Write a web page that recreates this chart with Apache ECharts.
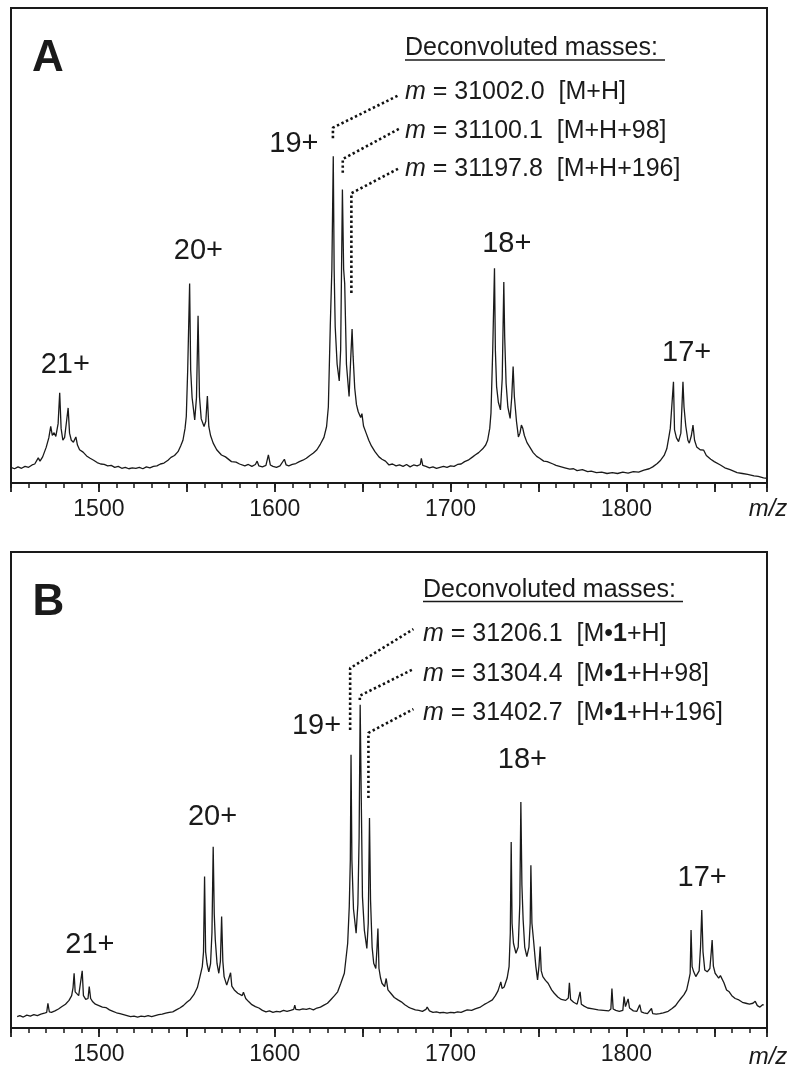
<!DOCTYPE html>
<html>
<head>
<meta charset="utf-8">
<script src="https://cdn.jsdelivr.net/npm/echarts@6/dist/echarts.min.js"></script>
<style>
html,body{margin:0;padding:0;background:#fff;}
#chart{width:800px;height:1080px;}
</style>
</head>
<body>
<div id="chart"></div>
<script>
// ---------------- data ----------------
const mzRange = [1450, 1880];
const tickLabels = [1500, 1600, 1700, 1800];

// Panel A spectrum: [m/z, relative intensity]
const spectrumA = [
[1450,3.3],[1452,3.0],[1454,3.4],[1456,3.1],[1458,3.5],[1460,3.3],[1462,3.8],[1463.5,4.0],[1465.5,5.3],[1466.5,4.6],
[1468,5.5],[1470,7.5],[1471.5,9.5],[1472.6,11.9],[1473.5,10.0],[1474.5,10.6],[1475.5,9.8],[1476.8,12.5],[1477.7,19.0],[1478.5,11.5],
[1479.5,9.0],[1480.5,9.6],[1481.6,13.0],[1482.5,15.8],[1483.3,10.5],[1484.3,9.0],[1485.5,8.6],[1486.9,9.7],[1487.8,8.0],[1489,7.0],
[1491,6.5],[1493,5.7],[1495,5.2],[1497,4.8],[1499,4.3],[1501,4.0],[1503,3.9],[1505,3.6],[1507,3.7],[1509,3.3],
[1511,3.5],[1513,3.1],[1515,3.3],[1517,3.0],[1519,3.2],[1521,3.1],[1523,3.3],[1525,3.0],[1527,3.4],[1529,3.2],
[1531,3.5],[1533,3.6],[1535,4.0],[1537,4.2],[1539.3,4.8],[1541,5.4],[1543,5.8],[1545,6.6],[1546.5,7.8],[1547.8,9.0],
[1549,11.5],[1549.7,14.0],[1550.5,23.8],[1551.6,42.0],[1552.2,23.8],[1553.0,18.0],[1554.5,13.3],[1555.5,18.0],[1556.4,35.2],[1557.2,18.2],
[1558.2,13.5],[1559.8,11.9],[1560.8,13.0],[1561.7,18.3],[1562.5,11.9],[1563.5,10.0],[1565,8.4],[1567,7.0],[1569.7,5.9],[1572,5.5],
[1575.4,4.5],[1578,4.4],[1580,4.0],[1583,3.6],[1585,3.9],[1587,3.5],[1589,3.9],[1590,4.6],[1591,3.6],[1593,3.4],
[1595,3.7],[1596.4,5.9],[1597.5,3.8],[1599,3.5],[1601,3.3],[1603,3.6],[1605.5,5.0],[1606.5,3.8],[1608,3.6],[1610,3.9],
[1612,4.1],[1614,4.5],[1616,4.8],[1618,5.2],[1620,5.8],[1622,6.3],[1624,7.0],[1626,8.2],[1628,9.6],[1629.5,11.9],
[1630.5,16],[1631.6,33],[1632.5,45],[1633.3,68.8],[1633.8,45],[1634.4,32.9],[1635.5,25],[1636.7,21.5],[1637.5,28],[1638.5,61.8],
[1639.2,45],[1639.8,42],[1640.8,25],[1642.3,18.2],[1643.2,26],[1644,32.4],[1644.6,26.6],[1645.5,20],[1646.5,16.5],[1647.5,15.0],
[1648.2,15.4],[1648.9,13.8],[1649.6,14.6],[1650.5,12.0],[1652,10.5],[1653.5,9.0],[1655,7.8],[1657,6.6],[1659.3,5.5],[1661,5.0],
[1663,4.6],[1665,3.8],[1667,4.0],[1669,3.6],[1671,3.8],[1673,3.5],[1675,3.9],[1677,3.4],[1679,3.8],[1681,3.6],
[1682.8,3.9],[1683.4,5.2],[1684.2,3.7],[1686,3.5],[1688,3.2],[1690,3.4],[1692,3.1],[1694,3.3],[1696,3.5],[1698,3.3],
[1700,3.6],[1702,3.5],[1704,3.9],[1706,4.0],[1708,4.5],[1710,4.8],[1712.6,5.5],[1714,5.9],[1716,6.4],[1718.3,7.2],
[1720,8.0],[1721.1,9.0],[1722.3,11.5],[1723,14.7],[1724,28],[1725,45.2],[1725.5,28],[1726.2,20.3],[1727.2,17],[1728.4,15.4],
[1729.4,22],[1730.3,42.3],[1730.8,30.8],[1731.6,21],[1732.6,16],[1733.9,13.6],[1734.8,18],[1735.6,24.5],[1736.3,18.2],[1737.5,13],
[1738.6,9.7],[1739.5,10.5],[1740.3,12.2],[1741.1,11.5],[1742,10],[1743.5,8.5],[1745,7.6],[1747,6.4],[1749,5.6],[1750.7,5.2],
[1753,4.6],[1755,4.5],[1758.3,4.0],[1760,3.7],[1763,3.4],[1765,3.2],[1767.8,2.9],[1770,3.0],[1772,2.6],[1775,2.8],
[1778,2.4],[1780,2.5],[1783,2.2],[1786,2.3],[1789,2.0],[1792,2.2],[1795,2.0],[1798,2.3],[1801,2.1],[1804,2.4],
[1807,2.3],[1810,2.7],[1813,3.0],[1815,3.4],[1817.6,4.1],[1819.5,4.8],[1821.5,5.8],[1823,7.2],[1824.2,9.7],[1825,11.5],
[1826.8,21.3],[1827.4,11.2],[1828.5,9.5],[1829.7,8.7],[1831,10.5],[1832.2,21.3],[1832.8,16],[1833.8,12],[1835,9.0],[1835.8,8.4],
[1837,10],[1837.9,12.2],[1838.8,9.0],[1840,7.6],[1842,7.0],[1844,6.9],[1845.5,5.8],[1848,5.0],[1850,4.5],[1853.5,3.8],
[1856,3.2],[1859,2.8],[1863,2.2],[1866,2.0],[1869,1.8],[1872.6,1.5],[1875,1.4],[1878,1.1],[1880,1.0]
];

// Panel B spectrum: [m/z, relative intensity]
const spectrumB = [
[1453.5,2.4],[1455,2.6],[1457,2.3],[1459,2.7],[1461,2.5],[1463,2.8],[1465,2.6],[1467,2.9],[1469,3.1],[1470.3,3.3],
[1471,5.2],[1471.8,3.4],[1473,3.3],[1475,3.6],[1477,4.0],[1479,4.5],[1481,5.0],[1483,5.8],[1484.5,6.8],[1485.3,8.5],
[1485.9,11.5],[1486.5,7.6],[1487.5,7.3],[1488.5,6.8],[1489.5,7.2],[1490.5,12.0],[1491.2,6.8],[1492.5,6.0],[1493.8,6.2],[1494.5,8.7],
[1495.3,6.2],[1496.5,5.5],[1498,5.0],[1500,4.7],[1502,4.4],[1504,4.3],[1506,3.8],[1508,3.5],[1510,3.2],[1512,3.0],
[1514,2.8],[1516,2.6],[1518,2.4],[1520,2.5],[1522,2.3],[1524,2.5],[1526,2.4],[1528,2.6],[1530,2.4],[1532,2.6],
[1534,2.8],[1536,2.9],[1538,3.1],[1540,3.3],[1542,3.4],[1544,3.8],[1546,4.2],[1548,4.7],[1550,5.4],[1552,6.0],
[1554,7.0],[1556,8.5],[1557.5,10.8],[1558.8,12.9],[1559.5,16],[1560.1,31.8],[1560.7,16],[1561.5,13.5],[1562.5,11.8],[1563.5,13.5],
[1564.3,20],[1565,38.1],[1565.6,24],[1566.2,18.5],[1567.2,13.5],[1568.2,11.5],[1569.1,14],[1569.8,23.4],[1570.5,14],[1571.2,10.8],
[1572.7,9.0],[1573.5,8.7],[1574.9,11.6],[1575.6,8.8],[1577,8.0],[1579,7.3],[1581.5,6.8],[1582.2,7.5],[1583.5,6.2],[1585,5.6],
[1587,4.9],[1589,4.5],[1591,4.2],[1593,3.7],[1595,3.4],[1597,3.6],[1599,3.3],[1601,3.5],[1603,3.4],[1605,3.7],
[1607,3.5],[1609,3.7],[1610.8,3.9],[1611.4,4.8],[1612,3.9],[1614,3.8],[1616,4.0],[1618,3.9],[1620,4.1],[1622,3.8],
[1624,4.2],[1626,4.4],[1628,4.8],[1630,5.2],[1632,6.0],[1634,6.8],[1635.8,7.6],[1637.5,9.3],[1639.6,11.5],[1641.5,17.8],
[1642.4,25.5],[1643.0,35.3],[1643.4,57.4],[1643.9,35.3],[1644.8,25],[1646.3,19.9],[1647.3,26],[1648,40],[1648.6,67.9],[1649.1,52],
[1649.9,27.6],[1651.0,20.5],[1652.4,16.7],[1653.2,22],[1653.9,44.1],[1654.5,26.9],[1655.4,17],[1656.3,13.6],[1657.5,12.5],[1658.2,17],
[1658.7,20.9],[1659.3,12.5],[1660.2,10.5],[1661,9.4],[1662.5,8.7],[1663.4,10.4],[1664.4,8.0],[1666,7.3],[1668,6.4],[1670.1,5.9],
[1672,5.5],[1674,4.9],[1676,4.4],[1677.7,4.1],[1680,3.8],[1682,3.7],[1684,3.5],[1686,3.9],[1686.7,4.4],[1688,3.6],
[1690,3.3],[1692,3.4],[1694,3.2],[1696,3.3],[1698,3.1],[1700,3.3],[1702,3.2],[1704,3.4],[1706,3.3],[1708,3.6],
[1709.5,3.8],[1712,3.7],[1714,4.0],[1717,4.4],[1719,4.9],[1721,5.3],[1723.8,5.9],[1725.5,6.8],[1727,7.8],[1728.6,9.7],
[1729.3,8.3],[1730.5,8.6],[1732.2,10.5],[1733.3,12.9],[1734,20],[1734.5,39.1],[1735,22],[1735.8,17.8],[1737.2,15.7],[1738.5,17],
[1739.4,26],[1740,47.5],[1740.6,30],[1741.3,22.7],[1742.2,17],[1743.4,15.0],[1744.6,17],[1745.3,22],[1745.7,34.2],[1746.3,22],
[1747.2,18.5],[1748.5,13],[1749.5,10.1],[1750.3,13],[1751,17.1],[1751.6,12],[1752.5,10.8],[1754,10],[1755.5,9.4],[1756.2,9.7],
[1757.5,8.0],[1759,7.3],[1761,6.5],[1763,6.0],[1765.5,5.8],[1767,6.3],[1767.6,9.5],[1768.3,6.0],[1770,5.4],[1772,5.0],
[1773.1,5.3],[1773.7,7.6],[1774.4,5.0],[1776,4.6],[1778,4.2],[1781,4.0],[1784,3.8],[1787,3.7],[1790,3.6],[1791.2,4.0],
[1791.8,8.3],[1792.5,4.0],[1794,3.7],[1796,3.5],[1798,3.7],[1798.7,6.6],[1799.5,4.5],[1800.3,4.2],[1801,6.1],[1801.8,4.2],
[1804,3.6],[1806,3.5],[1807.6,4.9],[1808.5,3.4],[1810,3.2],[1812,3.0],[1814.3,4.1],[1815,3.0],[1817,2.9],[1819,3.0],
[1821,3.2],[1823.8,3.5],[1826,4.1],[1828,4.7],[1829.5,5.5],[1831,6.2],[1832.8,7.0],[1834.3,8.0],[1835.5,10],[1836.3,11.5],
[1836.8,20.6],[1837.4,12.9],[1838.3,11.8],[1839.5,10.8],[1841.4,12],[1842.2,17],[1842.9,24.8],[1843.6,16],[1844.6,12.2],[1846,11.8],
[1847.5,12.5],[1848.3,16],[1848.8,18.5],[1849.5,13],[1850.5,11.5],[1851.5,11.0],[1852.5,10.5],[1853.5,11.0],[1854.3,10.8],[1855.5,9.5],
[1857,8],[1858.5,7.6],[1860,6.8],[1861.9,6.2],[1864,5.9],[1866,5.4],[1868,5.2],[1870,5.0],[1872,5.2],[1873.3,5.6],
[1874.5,4.7],[1876,4.4],[1877.5,4.9],[1878.1,4.8]
];

// charge-state labels and their anchor (m/z, intensity)
const charges = ['21+', '20+', '19+', '18+', '17+'];
const chargeAnchorA = [[1480.9, 24.8], [1556.6, 48.8], [1610.9, 71.4], [1732.0, 50.3], [1834.3, 27.4]];
const chargeAnchorB = [[1494.9, 17.4], [1564.6, 44.3], [1623.8, 63.4], [1740.9, 56.3], [1843.1, 31.5]];

// deconvoluted masses
const massesA = ['31002.0', '31100.1', '31197.8'];
const speciesA = ['M+H', 'M+H+98', 'M+H+196'];
const massesB = ['31206.1', '31304.4', '31402.7'];
const speciesB = ['+H', '+H+98', '+H+196'];

// dotted connectors from peaks to mass lines (data coords)
const connectorsA = [
  [[1633.1, 72.6], [1633.1, 74.8], [1670.9, 81.7]],
  [[1638.7, 65.3], [1638.7, 68.2], [1670.9, 74.6]],
  [[1643.6, 40.0], [1643.6, 61.0], [1670.9, 66.3]]
];
const connectorsB = [
  [[1642.9, 62.6], [1642.9, 75.6], [1678.9, 83.8]],
  [[1648.4, 68.9], [1648.4, 69.8], [1678.9, 75.4]],
  [[1653.3, 48.3], [1653.3, 62.0], [1678.9, 67.0]]
];

// ---------------- chart ----------------
const FONT = '"Liberation Sans", Arial, Helvetica, sans-serif';
const INK = '#1a1a1a';
const chart = echarts.init(document.getElementById('chart'), null, {renderer: 'canvas'});

function xAxes(g) {
  return [
    { gridIndex: g, type: 'value', position: 'bottom', offset: 0, min: mzRange[0], max: mzRange[1], interval: 10,
      axisLine: {show: true, onZero: false, lineStyle: {color: INK, width: 2}},
      axisTick: {show: true, length: 5, lineStyle: {color: INK, width: 1.5}},
      axisLabel: {show: false}, splitLine: {show: false} },
    { gridIndex: g, type: 'value', position: 'bottom', offset: 0, min: mzRange[0], max: mzRange[1], interval: 50,
      axisLine: {show: false, onZero: false},
      axisTick: {show: true, length: 9, lineStyle: {color: INK, width: 1.8}},
      axisLabel: {show: true, margin: 15, fontSize: 23, fontFamily: FONT, color: INK,
        formatter: v => tickLabels.indexOf(v) >= 0 ? String(v) : ''},
      splitLine: {show: false} }
  ];
}

function spectrumSeries(data, xi, yi) {
  return { type: 'line', data: data, xAxisIndex: xi, yAxisIndex: yi, symbol: 'none', showSymbol: false,
    lineStyle: {color: INK, width: 1.3}, animation: false, z: 3 };
}
function connectorSeries(lines, xi, yi) {
  return lines.map(l => ({ type: 'line', data: l, xAxisIndex: xi, yAxisIndex: yi, symbol: 'none',
    lineStyle: {color: '#111', width: 2.6, type: [2.4, 2.6]}, animation: false, z: 4 }));
}
function labelSeries(anchors, xi, yi) {
  return { type: 'scatter', xAxisIndex: xi, yAxisIndex: yi, symbolSize: 1,
    itemStyle: {color: 'rgba(0,0,0,0)', opacity: 1}, animation: false, z: 5,
    data: anchors.map((a, i) => ({value: a, name: charges[i]})),
    label: {show: true, position: 'inside', formatter: '{b}', fontSize: 29, fontFamily: FONT, color: INK, opacity: 1},
    emphasis: {disabled: true} };
}

function massBlock(x, yHead, yRows, masses, species, boldOne, underlineEnd) {
  const els = [];
  els.push({ type: 'text', x: x, y: yHead, style: { text: 'Deconvoluted masses:', font: '25px ' + FONT,
    fill: INK, align: 'left', verticalAlign: 'middle' } });
  els.push({ type: 'line', shape: {x1: x, y1: yHead + 11.5, x2: underlineEnd, y2: yHead + 11.5},
    style: {stroke: INK, lineWidth: 1.5} });
  masses.forEach((m, i) => {
    const spec = boldOne ? '[M\u2022{b|1}' + species[i] + ']' : '[' + species[i] + ']';
    els.push({ type: 'text', x: x, y: yRows[i], style: {
      text: '{i|m} = ' + m + '  ' + spec,
      font: '25px ' + FONT, fill: INK, align: 'left', verticalAlign: 'middle',
      rich: {
        i: {fontStyle: 'italic', fontSize: 25, fontFamily: FONT, fill: INK},
        b: {fontWeight: 'bold', fontSize: 25, fontFamily: FONT, fill: INK}
      } } });
  });
  return els;
}

const option = {
  animation: false,
  backgroundColor: '#fff',
  grid: [
    {left: 11, right: 33, top: 8, height: 475, show: true, borderColor: INK, borderWidth: 2, backgroundColor: 'transparent', containLabel: false, outerBoundsMode: 'none'},
    {left: 11, right: 33, top: 552, height: 476, show: true, borderColor: INK, borderWidth: 2, backgroundColor: 'transparent', containLabel: false, outerBoundsMode: 'none'}
  ],
  xAxis: xAxes(0).concat(xAxes(1)),
  yAxis: [
    {gridIndex: 0, type: 'value', min: 0, max: 100, show: false},
    {gridIndex: 1, type: 'value', min: 0, max: 100, show: false}
  ],
  series: [
    spectrumSeries(spectrumA, 0, 0),
    spectrumSeries(spectrumB, 2, 1),
    labelSeries(chargeAnchorA, 0, 0),
    labelSeries(chargeAnchorB, 2, 1)
  ].concat(connectorSeries(connectorsA, 0, 0)).concat(connectorSeries(connectorsB, 2, 1)),
  graphic: [
    {type: 'text', x: 48, y: 59, style: {text: 'A', font: 'bold 44px ' + FONT, fill: INK, align: 'center', verticalAlign: 'middle'}},
    {type: 'text', x: 48.5, y: 603, style: {text: 'B', font: 'bold 44px ' + FONT, fill: INK, align: 'center', verticalAlign: 'middle'}},
    {type: 'text', x: 768, y: 509, style: {text: 'm/z', font: 'italic 24px ' + FONT, fill: INK, align: 'center', verticalAlign: 'middle'}},
    {type: 'text', x: 768, y: 1057, style: {text: 'm/z', font: 'italic 24px ' + FONT, fill: INK, align: 'center', verticalAlign: 'middle'}}
  ].concat(massBlock(405, 48.5, [92, 131, 169.5], massesA, speciesA, false, 665))
   .concat(massBlock(423, 590, [634, 674, 713], massesB, speciesB, true, 683))
};
chart.setOption(option);
</script>
</body>
</html>
